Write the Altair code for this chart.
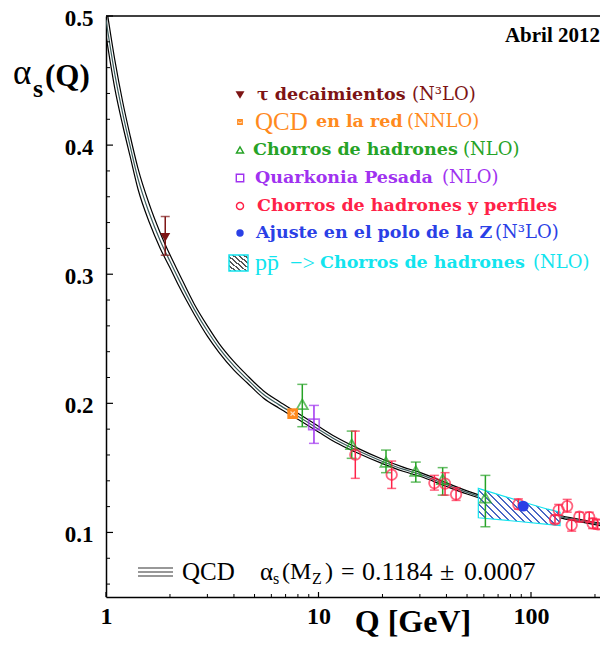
import altair as alt
import pandas as pd

# ---------------- data ----------------
curve_q = [1.0, 1.1, 1.2, 1.3, 1.414, 1.6, 1.8, 2.0, 2.2, 2.6, 3.0, 3.4, 4.0, 4.6, 5.5,
           6.5, 8.0, 10, 12, 15, 20, 25, 30, 40, 50, 65, 80, 91.2, 110, 130, 160, 200, 231]
curve_mid = [0.497, 0.455, 0.424, 0.399, 0.374, 0.347, 0.326, 0.310, 0.296, 0.273, 0.256,
             0.243, 0.229, 0.219, 0.207, 0.199, 0.190, 0.180, 0.172, 0.164, 0.155, 0.149,
             0.145, 0.137, 0.131, 0.125, 0.121, 0.119, 0.116, 0.113, 0.110, 0.107, 0.105]
curve_hi = [0.509, 0.466, 0.433, 0.407, 0.382, 0.354, 0.332, 0.315, 0.301, 0.277, 0.260,
            0.2465, 0.2323, 0.2219, 0.2098, 0.2016, 0.1924, 0.1822, 0.1741, 0.1659, 0.1567,
            0.1506, 0.1465, 0.1384, 0.1322, 0.1261, 0.1221, 0.1200, 0.1169, 0.1139, 0.1109,
            0.1079, 0.1059]
curve_lo = [0.485, 0.444, 0.415, 0.391, 0.366, 0.340, 0.320, 0.305, 0.291, 0.269, 0.252,
            0.2395, 0.2257, 0.2161, 0.2042, 0.1964, 0.1876, 0.1778, 0.1699, 0.1621, 0.1533,
            0.1474, 0.1435, 0.1356, 0.1298, 0.1239, 0.1199, 0.1180, 0.1151, 0.1121, 0.1091,
            0.1061, 0.1041]

tau_q, tau_a, tau_lo, tau_hi = [1.9], [0.3285], [0.3147], [0.3447]
lat_q, lat_a = [7.56], [0.192]
jet_q = [8.39, 14.33, 20.78, 28.7, 38.4, 61.0]
jet_a = [0.1992, 0.1682, 0.1545, 0.1475, 0.1411, 0.1269]
jet_lo = [0.1819, 0.1574, 0.1463, 0.1390, 0.1289, 0.1044]
jet_hi = [0.2147, 0.1785, 0.1638, 0.1545, 0.1502, 0.1442]
qq_q, qq_a, qq_lo, qq_hi = [9.52], [0.1837], [0.1690], [0.1984]
shp_q = [14.9, 22.1, 35.1, 39.4, 44.4, 87.2, 129.7, 135, 148, 155.4, 168.9, 188, 195, 206]
shp_a = [0.1602, 0.1447, 0.1382, 0.1378, 0.1295, 0.1217, 0.1100, 0.1173, 0.1204, 0.1057,
         0.1122, 0.1119, 0.1070, 0.1062]
shp_lo = [0.1419, 0.1341, 0.1328, 0.1289, 0.1248, 0.1180, 0.1070, 0.1132, 0.1157, 0.1010,
          0.1080, 0.1080, 0.1030, 0.1026]
shp_hi = [0.1785, 0.1553, 0.1442, 0.1463, 0.1347, 0.1260, 0.1134, 0.1217, 0.1256, 0.1100,
          0.1157, 0.1157, 0.1110, 0.1100]
z_q, z_a = [92.0], [0.1204]
band_q = [56.5, 90, 120, 137]
band_lo = [0.1114, 0.1083, 0.1063, 0.1054]
band_hi = [0.1341, 0.1240, 0.1180, 0.1157]

x_ticks_major = [1, 10, 100]
x_ticks_minor = [2, 3, 4, 5, 6, 7, 8, 9, 20, 30, 40, 50, 60, 70, 80, 90, 200]
y_ticks_major = [0.1, 0.2, 0.3, 0.4, 0.5]
y_ticks_minor = [0.06, 0.08, 0.12, 0.14, 0.16, 0.18, 0.22, 0.24, 0.26, 0.28, 0.32, 0.34,
                 0.36, 0.38, 0.42, 0.44, 0.46, 0.48]

# ---------------- layout ----------------
W, H = 494, 581
OX, OY = 106, 16  # page position of the plot origin
SERIF = "Liberation Serif"
LSERIF = "DejaVu Serif"

C_TAU = "#7d1414"
C_LAT = "#ff8a1e"
C_JET = "#26a326"
C_QQ = "#a032f0"
C_SHP = "#ff2248"
C_Z = "#2a40e6"
C_PP = "#12e4ee"

xs = alt.Scale(type="log", domain=[1, 211.2], nice=False)
ys = alt.Scale(domain=[0.05, 0.5], nice=False, zero=False)
xaxis = alt.Axis(values=x_ticks_major, format="d", ticks=False, grid=False, title=None,
                 labelFont=SERIF, labelFontWeight="bold", labelFontSize=24,
                 labelColor="black", labelPadding=7, labelFlush=False,
                 labelOverlap=False, domainColor="black", domainWidth=1.5)
yaxis = alt.Axis(values=y_ticks_major, format=".1f", ticks=False, grid=False, title=None,
                 labelFont=SERIF, labelFontWeight="bold", labelFontSize=23,
                 labelColor="black", labelPadding=13, labelFlush=False, labelOffset=2,
                 labelOverlap=False, domainColor="black", domainWidth=1.5)
X = alt.X("Q:Q", scale=xs, axis=xaxis)
Y = alt.Y("a:Q", scale=ys, axis=yaxis)
Y2 = alt.Y2("a2")


def df(**cols):
    return pd.DataFrame(cols)


def stripes(color, n, frac, x1, y1, x2, y2):
    stops = []
    for i in range(n):
        a, b, c = i / n, (i + frac) / n, (i + 1) / n
        stops += [alt.GradientStop(offset=a, color=color), alt.GradientStop(offset=b, color=color),
                  alt.GradientStop(offset=b, color="white"), alt.GradientStop(offset=c, color="white")]
    return alt.LinearGradient(gradient="linear", stops=stops, x1=x1, y1=y1, x2=x2, y2=y2)


layers = []

# QCD band: three lines
cdf = df(Q=curve_q, mid=curve_mid, hi=curve_hi, lo=curve_lo)
for col, colr in [("hi", "black"), ("lo", "black"), ("mid", "#3c5c5c")]:
    layers.append(alt.Chart(cdf).mark_line(color=colr, strokeWidth=1.2, clip=True, interpolate="monotone")
                  .encode(x=X, y=alt.Y(f"{col}:Q", scale=ys, axis=yaxis)))

# hatched pp -> jets band
layers.append(alt.Chart(df(Q=band_q, a=band_lo, a2=band_hi))
              .mark_area(fill=stripes("#4a68c4", 17, 0.27, 0, 1, 1.2057, 0.4562),
                         stroke=C_PP, strokeWidth=1.2, clip=True)
              .encode(x=X, y=Y, y2=Y2))


def errbars(q, lo, hi, color, cap=10):
    d = df(Q=q, a=lo, a2=hi)
    bar = alt.Chart(d).mark_rule(color=color, strokeWidth=1.5, clip=True).encode(x=X, y=Y, y2=Y2)
    c1 = alt.Chart(df(Q=q, a=lo)).mark_tick(color=color, orient="horizontal", size=cap,
                                             thickness=1.5, clip=True).encode(x=X, y=Y)
    c2 = alt.Chart(df(Q=q, a=hi)).mark_tick(color=color, orient="horizontal", size=cap,
                                             thickness=1.5, clip=True).encode(x=X, y=Y)
    return [bar, c1, c2]


layers += errbars(jet_q, jet_lo, jet_hi, C_JET)
layers += errbars(qq_q, qq_lo, qq_hi, C_QQ)
layers += errbars(shp_q, shp_lo, shp_hi, C_SHP, cap=9)
layers += errbars(tau_q, tau_lo, tau_hi, C_TAU, cap=9)

XSQ = "M-0.55,-0.55L0.55,0.55M0.55,-0.55L-0.55,0.55"
SQX = "M-1,-1L1,-1L1,1L-1,1ZM-0.6,-0.6L0.6,0.6M0.6,-0.6L-0.6,0.6"

layers.append(alt.Chart(df(Q=jet_q, a=jet_a)).mark_point(shape="triangle-up", size=125, color=C_JET,
              filled=False, strokeWidth=1.7, clip=True).encode(x=X, y=Y))
layers.append(alt.Chart(df(Q=qq_q, a=qq_a)).mark_point(shape="square", size=110, color=C_QQ,
              filled=False, strokeWidth=1.7, clip=True).encode(x=X, y=Y))
layers.append(alt.Chart(df(Q=shp_q, a=shp_a)).mark_point(shape="circle", size=110, color=C_SHP,
              filled=False, strokeWidth=1.8, clip=True).encode(x=X, y=Y))
layers.append(alt.Chart(df(Q=tau_q, a=tau_a)).mark_point(shape="triangle-down", size=100, color=C_TAU,
              filled=True, opacity=1, clip=True).encode(x=X, y=Y))
layers.append(alt.Chart(df(Q=lat_q, a=lat_a)).mark_point(shape="square", size=115, color=C_LAT,
              filled=True, opacity=1, clip=True).encode(x=X, y=Y))
layers.append(alt.Chart(df(Q=lat_q, a=lat_a)).mark_point(shape=XSQ, size=60, color="white",
              filled=False, strokeWidth=1.2, clip=True).encode(x=X, y=Y))
layers.append(alt.Chart(df(Q=z_q, a=z_a)).mark_point(shape="circle", size=120, color=C_Z,
              filled=True, opacity=1, clip=True).encode(x=X, y=Y))

# inward ticks
layers.append(alt.Chart(df(Q=x_ticks_major)).mark_rule(color="black", strokeWidth=1.2)
              .encode(x=X, y=alt.value(H), y2=alt.value(H - 5)))
layers.append(alt.Chart(df(Q=x_ticks_minor)).mark_rule(color="black", strokeWidth=1)
              .encode(x=X, y=alt.value(H), y2=alt.value(H - 3)))
layers.append(alt.Chart(df(a=y_ticks_major)).mark_rule(color="black", strokeWidth=1.2)
              .encode(y=Y, x=alt.value(0), x2=alt.value(7)))
layers.append(alt.Chart(df(a=y_ticks_minor)).mark_rule(color="black", strokeWidth=1)
              .encode(y=Y, x=alt.value(0), x2=alt.value(4)))
# top frame line
layers.append(alt.Chart(df(a=[0.5])).mark_rule(color="black", strokeWidth=1.5)
              .encode(y=alt.value(0), x=alt.value(0), x2=alt.value(W)))


def txt(s, px, py, size, color="black", weight="normal", font=SERIF, align="left",
        baseline="middle"):
    return (alt.Chart(df(t=[s])).mark_text(align=align, baseline=baseline, font=font,
                                             fontSize=size, fontWeight=weight, color=color)
            .encode(x=alt.value(px - OX), y=alt.value(py - OY), text="t:N"))


def sym(px, py, shape, size, color, filled=True, sw=1.4):
    return (alt.Chart(df(a=[0])).mark_point(shape=shape, size=size, color=color, filled=filled,
                                             opacity=1, strokeWidth=sw)
            .encode(x=alt.value(px - OX), y=alt.value(py - OY)))


# legend
LX = 240
rows = [95, 122, 150, 178, 206, 233, 263]
layers += [
    sym(LX, rows[0], "triangle-down", 80, C_TAU),
    txt("τ decaimientos", 257, rows[0], 17.5, C_TAU, "bold", LSERIF),
    txt("(N³LO)", 412, rows[0], 18, C_TAU, "normal", LSERIF),
    sym(LX, rows[1], SQX, 20, C_LAT, False, 1.3),
    txt("QCD", 255, rows[1], 25, C_LAT, "normal", SERIF),
    txt("en la red", 316, rows[1], 17.5, C_LAT, "bold", LSERIF),
    txt("(NNLO)", 407, rows[1], 18, C_LAT, "normal", LSERIF),
    sym(LX, rows[2], "triangle-up", 50, C_JET, False),
    txt("Chorros de hadrones", 253, rows[2], 17.5, C_JET, "bold", LSERIF),
    txt("(NLO)", 463, rows[2], 18, C_JET, "normal", LSERIF),
    sym(LX, rows[3], "square", 55, C_QQ, False),
    txt("Quarkonia Pesada", 255, rows[3], 17.5, C_QQ, "bold", LSERIF),
    txt("(NLO)", 442, rows[3], 18, C_QQ, "normal", LSERIF),
    sym(LX, rows[4], "circle", 50, C_SHP, False),
    txt("Chorros de hadrones y perfiles", 257, rows[4], 17.5, C_SHP, "bold", LSERIF),
    sym(LX, rows[5], "circle", 55, C_Z),
    txt("Ajuste en el polo de la Z", 256, rows[5], 17.5, C_Z, "bold", LSERIF),
    txt("(N³LO)", 495, rows[5], 18, C_Z, "normal", LSERIF),
    txt("pp̄", 255, rows[6], 24, C_PP, "normal", SERIF),
    txt("−>", 290, rows[6], 22, C_PP, "normal", SERIF),
    txt("Chorros de hadrones", 320, rows[6], 17.5, C_PP, "bold", LSERIF),
    txt("(NLO)", 533, rows[6], 18, C_PP, "normal", LSERIF),
]
layers.append(alt.Chart(df(a=[0])).mark_rect(fill=stripes("#555555", 7, 0.4, 0, 1, 1, 0),
                                              stroke=C_PP, strokeWidth=1.5)
              .encode(x=alt.value(229 - OX), x2=alt.value(248 - OX),
                      y=alt.value(255 - OY), y2=alt.value(271 - OY)))

# titles / annotations
layers += [
    txt("Abril 2012", 600, 36, 21, "black", "bold", SERIF, align="right"),
    txt("α", 13, 84, 35, "black", "normal", SERIF, baseline="alphabetic"),
    txt("s", 33, 97, 26, "black", "bold", SERIF, baseline="alphabetic"),
    txt("(Q)", 45, 86, 31, "black", "bold", SERIF, baseline="alphabetic"),
    txt("Q [GeV]", 413, 632, 32, "black", "bold", SERIF, align="center", baseline="alphabetic"),
    txt("QCD", 182, 572, 25, "black", "normal", SERIF),
    txt("α", 260, 572, 25, "black", "normal", SERIF),
    txt("s", 273, 579, 16, "black", "normal", SERIF),
    txt("(M", 282, 572, 24, "black", "normal", SERIF),
    txt("Z", 312, 579, 16, "black", "normal", SERIF),
    txt(")", 325, 572, 24, "black", "normal", SERIF),
    txt("=", 341, 572, 24, "black", "normal", SERIF),
    txt("0.1184", 362, 572, 26, "black", "normal", SERIF),
    txt("±", 440, 572, 26, "black", "normal", SERIF),
    txt("0.0007", 464, 572, 26, "black", "normal", SERIF),
]
for yy in [568, 572, 576]:
    layers.append(alt.Chart(df(a=[0])).mark_rule(color="#333333", strokeWidth=1.2)
                  .encode(x=alt.value(138 - OX), x2=alt.value(173 - OX), y=alt.value(yy - OY)))

chart = (alt.layer(*layers)
         .properties(width=W, height=H, autosize=alt.AutoSizeParams(type="none"),
                     padding={"left": 98, "top": 8, "right": 0, "bottom": 42})
         .configure_view(stroke="transparent")
         .configure_text(font=SERIF))

chart.save("out.html", embed_options={"renderer": "svg", "actions": False})
